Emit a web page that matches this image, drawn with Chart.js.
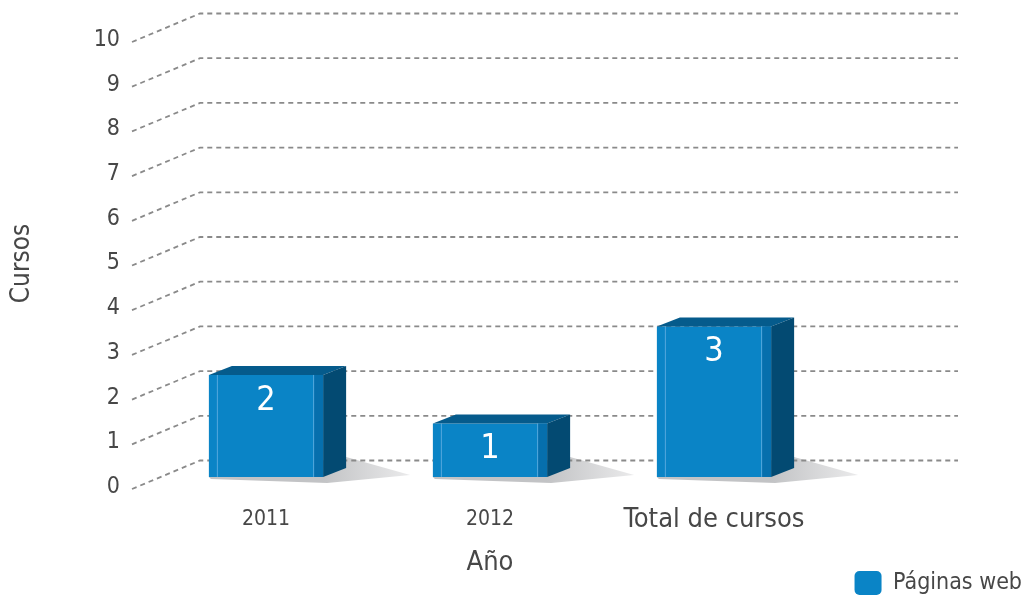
<!DOCTYPE html>
<html>
<head>
<meta charset="utf-8">
<script src="https://cdn.jsdelivr.net/npm/chart.js@4/dist/chart.umd.min.js"></script>
<style>
  html, body { margin: 0; padding: 0; background: #fff; }
  #wrap { width: 1026px; height: 596px; }
</style>
</head>
<body>
<div id="wrap"><canvas id="cursosChart"></canvas></div>
<script>
const categorias = ['2011', '2012', 'Total de cursos'];
const cursos = [2, 1, 3];
const serieNombre = 'Páginas web';
const yMin = 0;
const yMax = 10;

const FONT = "'Liberation Sans Narrow', 'DejaVu Sans Condensed', 'Roboto', sans-serif";
const TEXT = '#474747';
const AZUL = '#0a84c6';

// caras del efecto 3D (solo estilo)
const prof = { dx: 23, dy: 9 };

const pseudo3d = {
  id: 'pseudo3d',
  beforeDatasetsDraw(chart) {
    const { ctx, chartArea, scales } = chart;
    const y = scales.y;
    const meta = chart.getDatasetMeta(0);

    // sombra bajo las barras
    meta.data.forEach(bar => {
      const x0 = bar.x - bar.width / 2, x1 = bar.x + bar.width / 2, b = bar.base;
      const g = ctx.createLinearGradient(x1, 0, x1 + prof.dx + 65, 0);
      g.addColorStop(0, '#c2c3c5');
      g.addColorStop(1, '#ebebec');
      ctx.save();
      ctx.fillStyle = g;
      ctx.beginPath();
      ctx.moveTo(x1 + prof.dx, b - 20);
      ctx.lineTo(x1 + prof.dx + 64, b - 2);
      ctx.lineTo(x1 + 4, b + 6);
      ctx.lineTo(x0 + 2, b + 2);
      ctx.lineTo(x0, b);
      ctx.closePath();
      ctx.fill();
      ctx.restore();
    });

    // lineas de cuadricula (pared del fondo)
    ctx.save();
    ctx.strokeStyle = '#8a8a8a';
    ctx.lineWidth = 1.8;
    ctx.setLineDash([5, 4]);
    y.ticks.forEach(t => {
      const fy = y.getPixelForValue(t.value);
      const by = fy - 26.5;
      ctx.beginPath();
      ctx.moveTo(y.right + 12, fy + 2);
      ctx.lineTo(chartArea.left + 46, by);
      ctx.lineTo(chartArea.right + 132, by);
      ctx.stroke();
    });
    ctx.restore();
  },
  afterDatasetsDraw(chart) {
    const { ctx } = chart;
    const meta = chart.getDatasetMeta(0);
    meta.data.forEach((bar, i) => {
      const x0 = bar.x - bar.width / 2, x1 = bar.x + bar.width / 2;
      const top = bar.y, b = bar.base;
      ctx.save();
      // cara superior
      ctx.fillStyle = '#055b8c';
      ctx.beginPath();
      ctx.moveTo(x0, top);
      ctx.lineTo(x0 + prof.dx, top - prof.dy);
      ctx.lineTo(x1 + prof.dx, top - prof.dy);
      ctx.lineTo(x1, top);
      ctx.closePath();
      ctx.fill();
      // cara lateral
      ctx.fillStyle = '#034a72';
      ctx.beginPath();
      ctx.moveTo(x1, top);
      ctx.lineTo(x1 + prof.dx, top - prof.dy);
      ctx.lineTo(x1 + prof.dx, b - prof.dy);
      ctx.lineTo(x1, b);
      ctx.closePath();
      ctx.fill();
      // bisel frontal
      ctx.fillStyle = '#066fad';
      ctx.fillRect(x1 - 9, top, 9, b - top);
      ctx.strokeStyle = 'rgba(110,180,228,0.75)';
      ctx.lineWidth = 1;
      ctx.beginPath();
      ctx.moveTo(x0 + 8.5, top); ctx.lineTo(x0 + 8.5, b);
      ctx.moveTo(x1 - 9.5, top); ctx.lineTo(x1 - 9.5, b);
      ctx.stroke();
      // valor
      ctx.fillStyle = '#ffffff';
      ctx.font = '34px ' + FONT;
      ctx.textAlign = 'center';
      ctx.textBaseline = 'middle';
      ctx.fillText(String(cursos[i]), bar.x, top + 26);
      ctx.restore();
    });
  }
};

const ctx = document.getElementById('cursosChart').getContext('2d');
const cursosChart = new Chart(ctx, {
  type: 'bar',
  data: {
    labels: categorias,
    datasets: [{
      label: serieNombre,
      data: cursos,
      yAxisID: 'yBar',
      backgroundColor: AZUL,
      borderWidth: 0,
      barPercentage: 0.51,
      categoryPercentage: 1,
      base: -0.1
    }]
  },
  options: {
    responsive: true,
    maintainAspectRatio: false,
    animation: false,
    layout: { padding: { top: 40, bottom: -9, left: 0, right: 0 } },
    plugins: {
      tooltip: { enabled: false },
      legend: {
        position: 'bottom',
        align: 'end',
        labels: {
          boxWidth: 27,
          boxHeight: 24,
          useBorderRadius: true,
          borderRadius: 5,
          padding: 4,
          color: TEXT,
          font: { family: FONT, size: 23 }
        }
      }
    },
    scales: {
      x: {
        grid: { display: false, drawTicks: false },
        border: { display: false },
        ticks: {
          color: TEXT,
          padding: 18,
          maxRotation: 0,
          autoSkip: false,
          font: c => ({ family: FONT, size: c.index === 2 ? 27 : 21, lineHeight: '30px' })
        },
        title: {
          display: true,
          text: 'Año',
          color: TEXT,
          font: { family: FONT, size: 27, lineHeight: '30px' },
          padding: { top: -5, bottom: -11 }
        }
      },
      y: {
        position: 'left',
        weight: 1,
        min: yMin,
        max: yMax,
        grid: { display: false, drawTicks: false },
        border: { display: false },
        ticks: {
          stepSize: 1,
          color: TEXT,
          padding: 0,
          font: { family: FONT, size: 23 }
        },
        title: {
          display: true,
          text: 'Cursos',
          color: TEXT,
          font: { family: FONT, size: 26, lineHeight: '30px' },
          padding: { top: 7, bottom: 0 }
        },
        afterFit: s => { s.width = 120; }
      },
      yBar: {
        position: 'left',
        weight: 0,
        min: -0.3083,
        max: 8.9,
        grid: { display: false, drawTicks: false },
        border: { display: false },
        ticks: { display: false },
        afterFit: s => { s.width = 34; }
      },
      margen: {
        position: 'right',
        grid: { display: false, drawTicks: false },
        border: { display: false },
        ticks: { display: false },
        afterFit: s => { s.width = 200; }
      }
    }
  },
  plugins: [pseudo3d]
});
</script>
</body>
</html>
